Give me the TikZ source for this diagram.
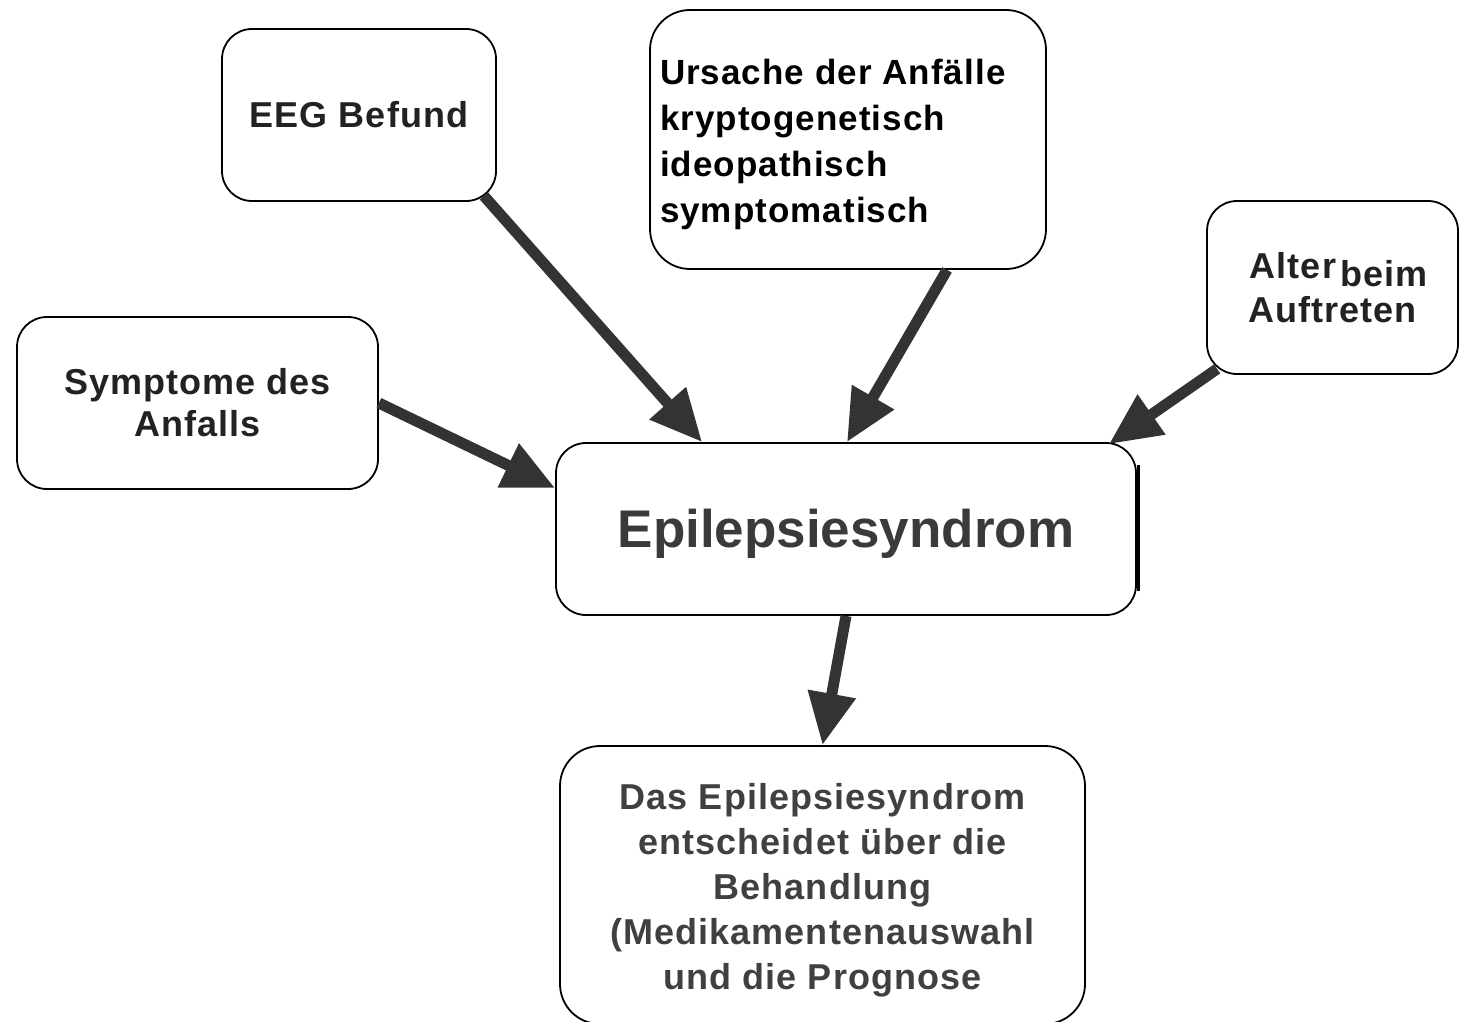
\documentclass[tikz,border=0pt]{standalone}
\usepackage{fontspec}
\setmainfont{Liberation Sans}
\newfontfamily\boxfont[LetterSpace=3]{Liberation Sans}
\usetikzlibrary{arrows.meta,calc}
\definecolor{ink}{HTML}{222222}
\definecolor{titleink}{HTML}{3A3A3A}
\definecolor{softink}{HTML}{404040}
\definecolor{arrowink}{HTML}{333333}

\begin{document}
\begin{tikzpicture}[x=1pt,y=-1pt,
  box/.style={draw=black, line width=1.8pt, rounded corners=#1, inner sep=0pt, fill=white},
  box/.default=30pt,
  label/.style={font=\boxfont\fontsize{36}{#1}\selectfont\bfseries, text=ink, align=center},
  label/.default=42,
  conn/.style={draw=arrowink, line width=11pt,
    -{Triangle[length=52pt,width=46pt]}}
]
\useasboundingbox[fill=white] (0,0) rectangle (1459,1022);

% boxes
\node[box, label=42, minimum width=274pt, minimum height=172pt] (eeg) at (359,115) {EEG Befund};
\node[box=40pt, minimum width=396pt, minimum height=259pt,
      font=\boxfont\fontsize{35}{46}\selectfont\bfseries, text=black] (cause) at (848,139.5)
  {\parbox{376pt}{\vspace*{9pt}\raggedright
    Ursache der Anfälle\\kryptogenetisch\\ideopathisch\\symptomatisch}};
\node[box, label=44, minimum width=251pt, minimum height=173pt] (age) at (1332.5,287.5)
  {\hspace{12pt}Alter\hspace{4pt}\raisebox{-8pt}{beim}\\Auftreten};
\node[box, label=42, minimum width=361pt, minimum height=172pt] (symp) at (197.5,403)
  {Symptome des\\Anfalls};
\node[box, minimum width=580pt, minimum height=172pt,
      text height=43.6pt, text depth=6pt,
      font=\fontsize{53}{60}\selectfont\bfseries, text=titleink] (epi) at (846,529)
  {Epilepsiesyndrom};
\node[box=40pt, label=45, text=softink, minimum width=525pt, minimum height=278pt] (result) at (822.5,885)
  {\parbox{510pt}{\vspace*{10pt}\centering
    Das Epilepsiesyndrom\\entscheidet über die\\Behandlung\\(Medikamentenauswahl\\und die Prognose}};

% heavier stroke along the right side of the central box
\draw[line width=3pt, black] ($(epi.east)+(2,-64)$) -- ($(epi.east)+(2,62)$);

% connectors
\draw[conn] ($(eeg.south east)+(-13,-6)$) -- ($(epi.north west)+(147,0)$);
\draw[conn] ($(cause.south)+(99,0)$) -- ($(epi.north)+(1,0)$);
\draw[conn] ($(age.south west)+(11,-6)$) -- ($(epi.north east)+(-28,2)$);
\draw[conn] (symp.east) -- ($(epi.west)+(0,-41)$);
\draw[conn] (epi.south) -- (result.north);
\end{tikzpicture}
\end{document}
